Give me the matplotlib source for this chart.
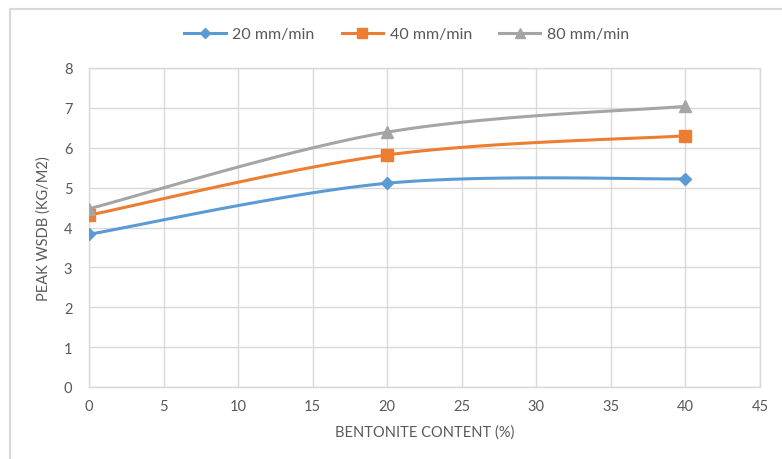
import numpy as np
import matplotlib
matplotlib.use("Agg")
import matplotlib.pyplot as plt
from matplotlib.patches import Rectangle
from matplotlib.lines import Line2D

plt.rcParams['font.family'] = ['Lato', 'DejaVu Sans']

bentonite = [0, 20, 40]
series_names = ["20 mm/min", "40 mm/min", "80 mm/min"]
wsdb_20 = [3.83, 5.11, 5.22]
wsdb_40 = [4.31, 5.82, 6.30]
wsdb_80 = [4.47, 6.39, 7.04]
x_ticks = [0, 5, 10, 15, 20, 25, 30, 35, 40, 45]
y_ticks = [0, 1, 2, 3, 4, 5, 6, 7, 8]

colors = ["#5B9BD5", "#ED7D31", "#A5A5A5"]
markers = ["D", "s", "^"]
msizes = [6.5, 8.5, 9]
text_color = "#595959"
grid_color = "#D9D9D9"


def smooth(xs, ys, n=60):
    """Cubic Bezier through the points, Catmull-Rom style control points."""
    p = np.column_stack([xs, ys]).astype(float)
    m = len(p)
    out = []
    for i in range(m - 1):
        p0 = p[i - 1] if i > 0 else p[i]
        p1, p2 = p[i], p[i + 1]
        p3 = p[i + 2] if i + 2 < m else p[i + 1]
        c1 = p1 + (p2 - p0) / 6.0
        c2 = p2 - (p3 - p1) / 6.0
        t = np.linspace(0, 1, n)[:, None]
        seg = ((1 - t) ** 3) * p1 + 3 * ((1 - t) ** 2) * t * c1 + 3 * (1 - t) * t ** 2 * c2 + t ** 3 * p2
        out.append(seg if i == 0 else seg[1:])
    s = np.vstack(out)
    return s[:, 0], s[:, 1]


fig = plt.figure(figsize=(7.82, 4.6), dpi=100)
fig.patches.append(Rectangle((9.5 / 782, -0.1), 1.2, 1.1 - 9.5 / 460,
                             transform=fig.transFigure, fill=False,
                             edgecolor="#D9D9D9", linewidth=1.5))
ax = fig.add_axes([89 / 782, 1 - 388 / 460, (760 - 89) / 782, (388 - 69) / 460])

for ys, name, c, mk, ms in zip([wsdb_20, wsdb_40, wsdb_80], series_names, colors, markers, msizes):
    sx, sy = smooth(bentonite, ys)
    ax.plot(sx, sy, color=c, linewidth=2.2, zorder=3, solid_capstyle="round")
    ax.plot(bentonite, ys, linestyle="none", marker=mk, markersize=ms,
            color=c, markeredgecolor=c, zorder=4)

ax.set_xlim(0, 45)
ax.set_ylim(0, 8)
ax.set_xticks(x_ticks)
ax.set_yticks(y_ticks)
ax.grid(True, color=grid_color, linewidth=1)
ax.set_axisbelow(True)
for sp in ax.spines.values():
    sp.set_color(grid_color)
    sp.set_linewidth(1)
ax.tick_params(length=0, colors=text_color, labelsize=10.5, pad=9)
ax.tick_params(axis='y', pad=12)

ax.set_xlabel("BENTONITE CONTENT (%)", color=text_color, fontsize=10.5, labelpad=8)
ax.set_ylabel("PEAK WSDB (KG/M2)", color=text_color, fontsize=10.5, labelpad=9)

handles = [Line2D([0], [0], color=c, marker=mk, markersize=ms * 0.85, linewidth=2.2)
           for c, mk, ms in zip(colors, markers, msizes)]
leg = fig.legend(handles, series_names, loc="center", bbox_to_anchor=(0.52, 1 - 35 / 460),
                 ncol=3, frameon=False, fontsize=11.5, handlelength=2.6,
                 columnspacing=1.7, handletextpad=0.4)
for t in leg.get_texts():
    t.set_color(text_color)

fig.savefig("out.png", dpi=100)
